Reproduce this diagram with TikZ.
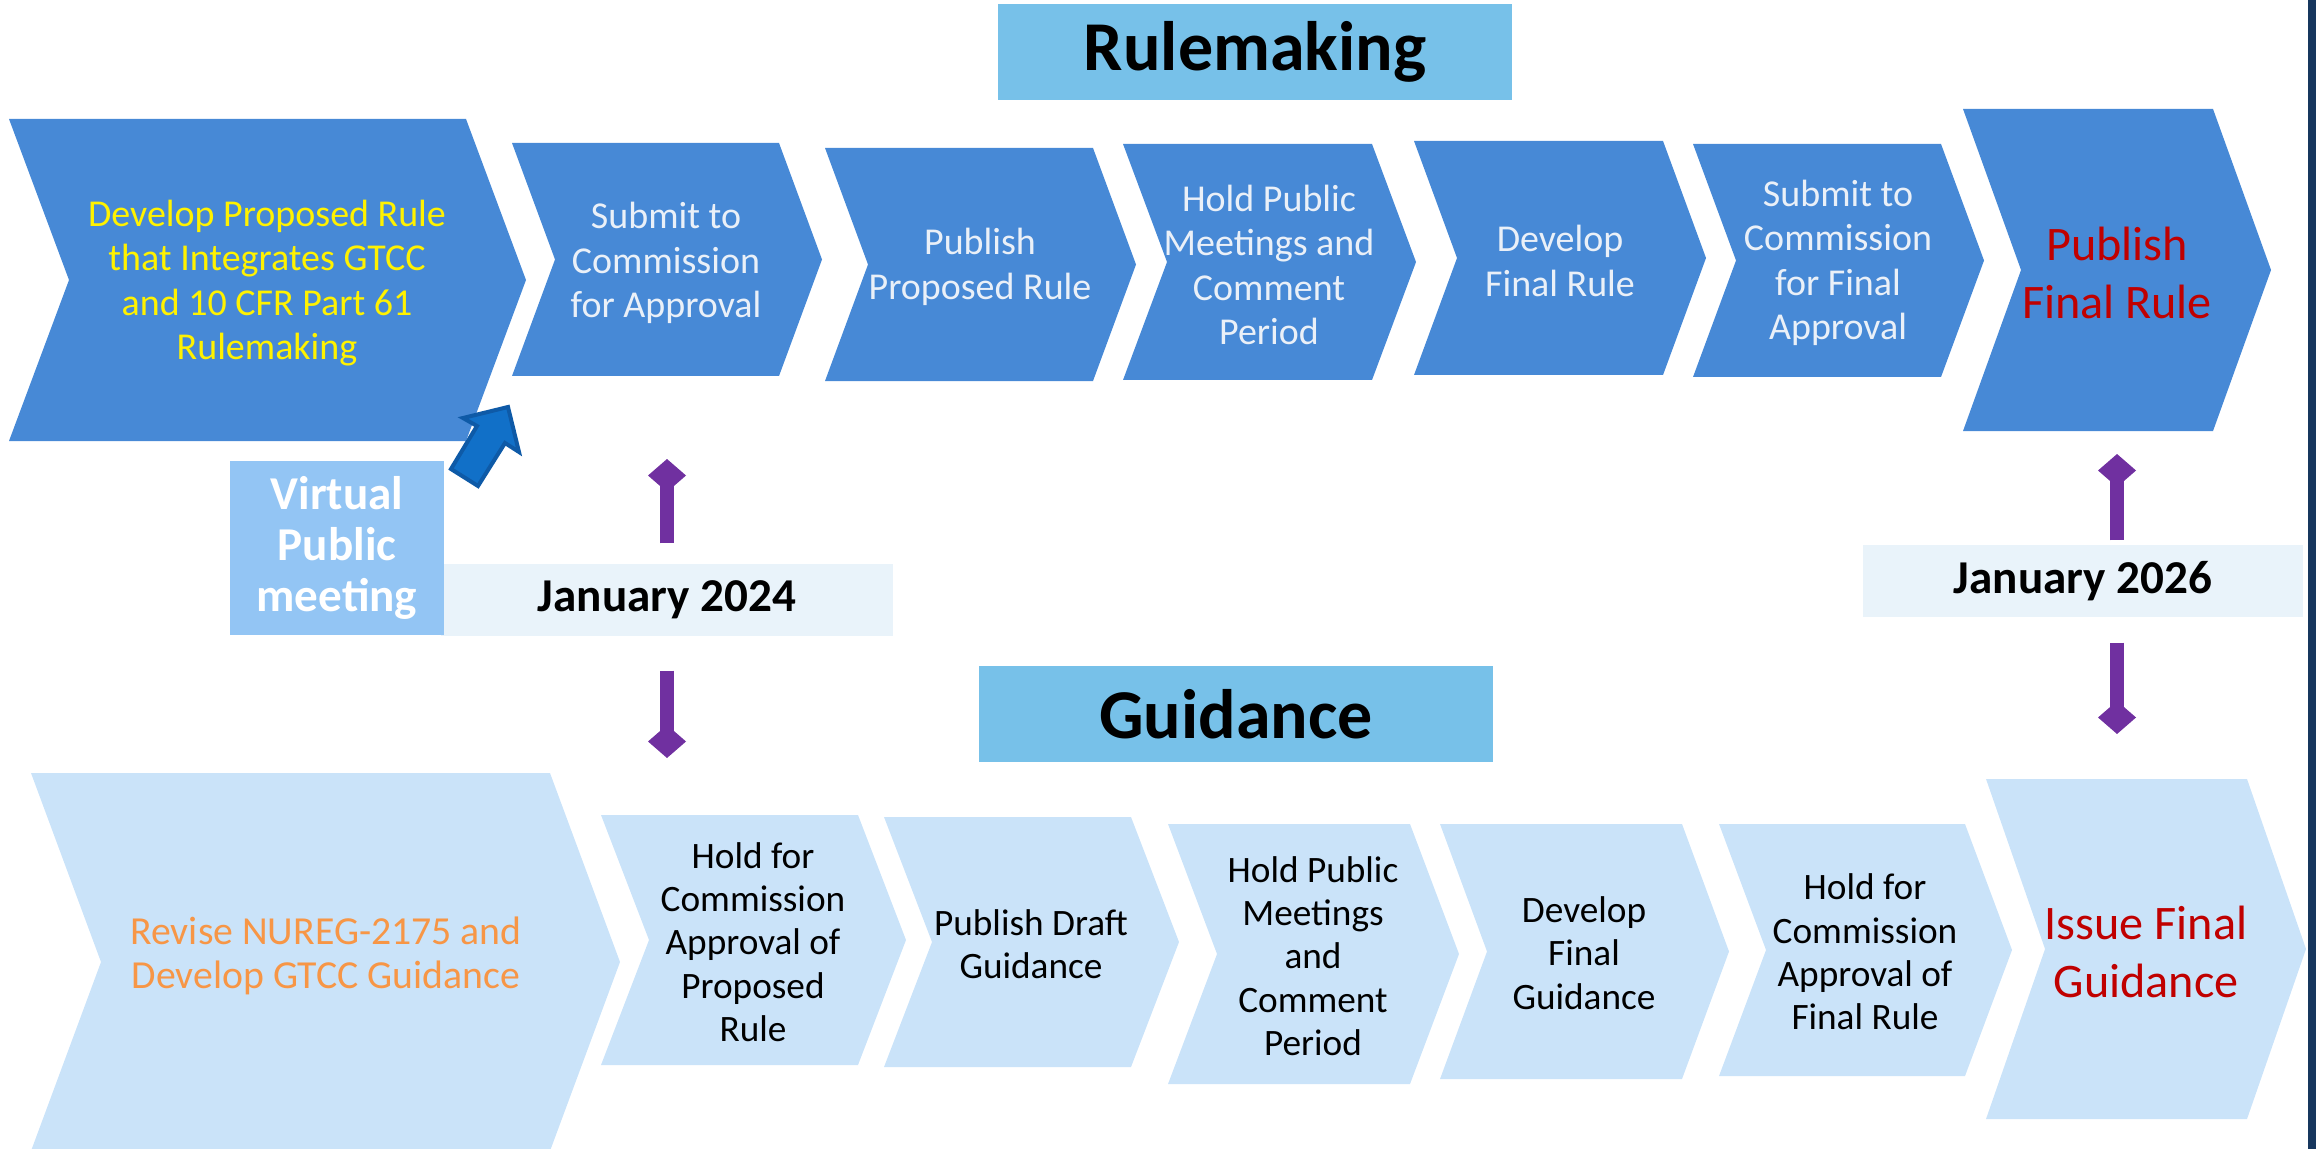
\documentclass[tikz,border=0pt]{standalone}
\usepackage{fontspec}
\setmainfont{Carlito}
\usetikzlibrary{arrows.meta, calc}

\definecolor{rulblue}{HTML}{4789D6}
\definecolor{guidblue}{HTML}{CAE3F9}
\definecolor{headblue}{HTML}{77C1E9}
\definecolor{datebg}{HTML}{E9F3FA}
\definecolor{vmbg}{HTML}{93C5F4}
\definecolor{vmarrowfill}{HTML}{1170C8}
\definecolor{vmarrowline}{HTML}{0E5AA7}
\definecolor{milepurple}{HTML}{7030A0}
\definecolor{steporange}{HTML}{F79646}
\definecolor{stepred}{HTML}{C00000}
\definecolor{steplight}{HTML}{EAF0F8}
\definecolor{edgenavy}{HTML}{17375E}

\tikzset{
  ruletext/.style={align=center, text=steplight, font=\fontsize{10.8}{12.6}\selectfont},
  guidetext/.style={align=center, text=black, font=\fontsize{10.6}{12.3}\selectfont},
  bigtext/.style={align=center, text=stepred, font=\fontsize{13.7}{16.5}\selectfont},
  headbox/.style={fill=headblue, minimum width=5.14cm, minimum height=0.96cm, font=\fontsize{19.9}{22}\selectfont\bfseries},
  datebox/.style={fill=datebg, minimum height=0.72cm, font=\fontsize{13.4}{15}\selectfont\bfseries},
  milestone/.style={milepurple, line width=0.14cm, -{Diamond[length=0.33cm, width=0.38cm, line width=0pt]}}
}

\begin{document}
\begin{tikzpicture}[x=0.01cm, y=-0.01cm]
	\useasboundingbox (0,0) rectangle (2316,1149);
	\clip (0,0) rectangle (2316,1149);
	
	% rulemaking row
	\foreach \l/\r/\t/\b/\d in {9/466/119/441/60, 512/779/143/376/43, 825/1093/148/381/43, 1123/1372/144/380/44, 1414/1663/141/375/43, 1693/1941/144/377/43, 1963/2213/109/431/58}
		\fill[rulblue] (\l,\t) -- (\r,\t) -- ({\r+\d},{(\t+\b)/2}) -- (\r,\b) -- (\l,\b) -- ({\l+\d},{(\t+\b)/2}) -- cycle;
	
	% guidance row
	\foreach \l/\r/\t/\b/\d in {31/550/773/1151/70, 601/858/815/1065/48, 884/1131/817/1067/48, 1168/1410/824/1084/49, 1440/1682/824/1079/47, 1719/1965/824/1076/47, 1986/2247/779/1119/59}
		\fill[guidblue] (\l,\t) -- (\r,\t) -- ({\r+\d},{(\t+\b)/2}) -- (\r,\b) -- (\l,\b) -- ({\l+\d},{(\t+\b)/2}) -- cycle;
	
	\node[ruletext, text=yellow] (devrule) at (267,283) {Develop Proposed Rule\\that Integrates GTCC\\and 10 CFR Part 61\\Rulemaking};
	\node[ruletext] (subrule) at (666,263) {Submit to\\Commission\\for Approval};
	\node[ruletext] (pubrule) at (980,267) {Publish\\Proposed Rule};
	\node[ruletext] (meetrule) at (1269,265) {Hold Public\\Meetings and\\Comment\\Period};
	\node[ruletext] (finrule) at (1560,261) {Develop\\Final Rule};
	\node[ruletext] (subfinal) at (1838,263) {Submit to\\Commission\\for Final\\Approval};
	\node[bigtext] (pubfinal) at (2117,273) {Publish\\Final Rule};
	
	\node[guidetext, text=steporange, font=\fontsize{11.3}{12.3}\selectfont] (revise) at (326,956) {Revise NUREG-2175 and\\Develop GTCC Guidance};
	\node[guidetext] (holdprop) at (753,942) {Hold for\\Commission\\Approval of\\Proposed\\Rule};
	\node[guidetext] (pubdraft) at (1031,944) {Publish Draft\\Guidance};
	\node[guidetext] (meetguide) at (1313,956) {Hold Public\\Meetings\\and\\Comment\\Period};
	\node[guidetext] (finguide) at (1584,953) {Develop\\Final\\Guidance};
	\node[guidetext] (holdfinal) at (1865,952) {Hold for\\Commission\\Approval of\\Final Rule};
	\node[bigtext] (issue) at (2146,952) {Issue Final\\Guidance};
	
	% headings and dates
	\node[headbox] (rulehead) at (1255,52) {Rulemaking};
	\node[headbox] (guidehead) at (1236,714) {Guidance};
	\node[datebox, minimum width=4.52cm] (jan24) at (667,600) {January 2024};
	\node[datebox, minimum width=4.39cm] (jan26) at (2083,581) {January 2026};
	\node[fill=vmbg, text=white, align=center, minimum width=2.14cm, minimum height=1.74cm,
		font=\fontsize{13.4}{14.6}\selectfont\bfseries] (vpm) at (337,548) {Virtual\\Public\\meeting};
	
	\filldraw[fill=vmarrowfill, draw=vmarrowline, line width=0.4mm, line join=miter]
		(508,407) -- (519,452) -- (505,443) -- (478,486) -- (451,469) -- (477,426) -- (463,418) -- cycle;
	
	\coordinate (tip24up) at (667,459);
	\coordinate (tip24dn) at (667,758);
	\coordinate (tip26up) at (2117,454);
	\coordinate (tip26dn) at (2117,734);
	\draw[milestone] ($(jan24.north)+(0,-20)$) -- (tip24up);
	\draw[milestone] ($(jan24.south)+(0,34)$) -- (tip24dn);
	\draw[milestone] ($(jan26.north -| tip26up)+(0,-4)$) -- (tip26up);
	\draw[milestone] ($(jan26.south -| tip26dn)+(0,25)$) -- (tip26dn);
	
	\fill[edgenavy] (2308,0) rectangle (2316,1149);
\end{tikzpicture}
\end{document}
